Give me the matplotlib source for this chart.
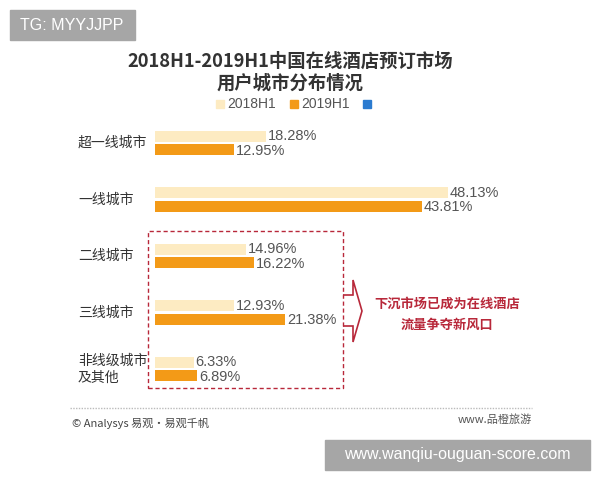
import matplotlib
matplotlib.use("Agg")
import matplotlib.pyplot as plt
from matplotlib.patches import Rectangle, Polygon

plt.rcParams['font.family'] = ['Noto Sans CJK SC', 'DejaVu Sans']
latin = ['Liberation Sans', 'Noto Sans CJK SC']

cities = ['超一线城市', '一线城市', '二线城市', '三线城市', '非线级城市\n及其他']
share_2018 = [18.28, 48.13, 14.96, 12.93, 6.33]
share_2019 = [12.95, 43.81, 16.22, 21.38, 6.89]
series = ['2018H1', '2019H1']

light = '#fdebc2'
orange = '#f39a17'
red = '#b8283a'

W, H = 600, 480
fig = plt.figure(figsize=(6, 4.8), dpi=100)


def fx(x):
    return x / W


def fy(y):
    return 1 - y / H


# bar area: value 0 at x=155px, 6.09 px per percent
ax = fig.add_axes([fx(155), fy(397), fx(300), (397 - 115) / H])
ax.set_xlim(0, 300 / 6.09)
ax.set_ylim(4.5, -0.5)
ax.axis('off')

pos = range(len(cities))
h = 0.195
off = 0.12
ax.barh([p - off for p in pos], share_2018, height=h, color=light)
ax.barh([p + off for p in pos], share_2019, height=h, color=orange)
for p, a, b in zip(pos, share_2018, share_2019):
    ax.text(a + 0.3, p - off, f'{a:.2f}%', va='center', ha='left', fontsize=10.5,
            color='#555555', family=latin)
    ax.text(b + 0.3, p + off + 0.02, f'{b:.2f}%', va='center', ha='left', fontsize=10.5,
            color='#555555', family=latin)

# category labels
for p, c in zip(pos, cities):
    ypx = 143 + p * 56.5
    fig.text(fx(78), fy(ypx), c, ha='left', va='center', fontsize=10, color='#333333',
             linespacing=1.3)

# title
fig.text(fx(290), fy(61), '2018H1-2019H1中国在线酒店预订市场', ha='center', va='center',
         fontsize=13.2, fontweight='bold', color='#333333')
fig.text(fx(290), fy(83), '用户城市分布情况', ha='center', va='center',
         fontsize=13.2, fontweight='bold', color='#333333')

# legend
for xs, col, lab in [(216, light, series[0]), (290, orange, series[1]), (363, '#2b7bd0', '')]:
    fig.patches.append(Rectangle((fx(xs), fy(108)), fx(8), 8 / H, color=col,
                                 transform=fig.transFigure))
    if lab:
        fig.text(fx(xs + 11), fy(104), lab, ha='left', va='center', fontsize=10,
                 color='#555555', family=latin)

# dashed box and arrow
fig.patches.append(Rectangle((fx(148), fy(388)), fx(195), (388 - 231) / H, fill=False,
                             ec=red, lw=1, ls=(0, (3, 2)), transform=fig.transFigure))
arrow = [(343, 295), (353, 295), (353, 280), (362, 311), (353, 342), (353, 326), (343, 326)]
fig.patches.append(Polygon([(fx(x), fy(y)) for x, y in arrow], closed=False, fill=False,
                           ec=red, lw=1.2, transform=fig.transFigure))
fig.text(fx(447), fy(304), '下沉市场已成为在线酒店', ha='center', va='center',
         fontsize=9.5, fontweight='bold', color=red)
fig.text(fx(447), fy(325), '流量争夺新风口', ha='center', va='center',
         fontsize=9.5, fontweight='bold', color=red)

# footer
fig.add_artist(plt.Line2D([fx(70), fx(532)], [fy(408), fy(408)], color='#bbbbbb', lw=1,
                          ls=(0, (1, 1)), transform=fig.transFigure))
fig.text(fx(72), fy(423), '© Analysys 易观·易观千帆', ha='left', va='center', fontsize=8,
         color='#444444')
fig.text(fx(532), fy(420), 'www.品橙旅游', ha='right', va='center', fontsize=8, color='#555555')

# watermark boxes
fig.patches.append(Rectangle((fx(10), fy(40)), fx(125), 30 / H, color='#a6a6a6',
                             transform=fig.transFigure))
fig.text(fx(20), fy(25), 'TG: MYYJJPP', ha='left', va='center', fontsize=11.5, color='white',
         family=latin)
fig.patches.append(Rectangle((fx(325), fy(470)), fx(265), 30 / H, color='#a6a6a6',
                             transform=fig.transFigure))
fig.text(fx(457), fy(455), 'www.wanqiu-ouguan-score.com', ha='center', va='center',
         fontsize=11.5, color='white', family=latin)

fig.savefig('out.png', dpi=100)
